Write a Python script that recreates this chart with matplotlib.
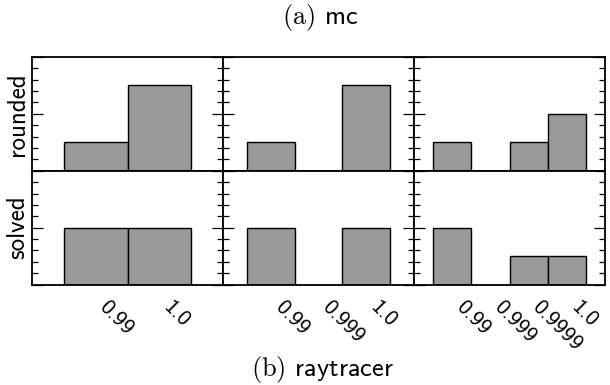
import numpy as np
import matplotlib
matplotlib.use('Agg')
import matplotlib.pyplot as plt
from matplotlib.ticker import MultipleLocator

plt.rcParams['font.family'] = ['cmss10', 'DejaVu Sans']
plt.rcParams['mathtext.fontset'] = 'cm'
plt.rcParams['axes.formatter.use_mathtext'] = True

# categories (thresholds) per panel column
col_labels = [
    ['0.99', '1.0'],
    ['0.99', '0.999', '1.0'],
    ['0.99', '0.999', '0.9999', '1.0'],
]
rounded = [
    [0.25, 0.75],
    [0.25, 0.0, 0.75],
    [0.25, 0.0, 0.25, 0.5],
]
solved = [
    [0.5, 0.5],
    [0.5, 0.0, 0.5],
    [0.5, 0.0, 0.25, 0.25],
]
row_names = ['rounded', 'solved']
rows = [rounded, solved]

fig, axes = plt.subplots(2, 3, figsize=(6.1, 3.85), dpi=100)
fig.subplots_adjust(left=0.0525, right=0.992, top=0.852, bottom=0.261,
                    wspace=0, hspace=0)

for r, row_data in enumerate(rows):
    for c, labels in enumerate(col_labels):
        ax = axes[r, c]
        x = np.arange(len(labels))
        vals = row_data[c]
        ax.bar(x, vals, width=1.0, color='0.6', edgecolor='black', linewidth=1.0)
        ax.set_xlim(-1, len(labels))
        ax.set_ylim(0, 1)
        for sp in ax.spines.values():
            sp.set_linewidth(1.3)
        ax.yaxis.set_major_locator(MultipleLocator(0.5))
        ax.yaxis.set_minor_locator(MultipleLocator(0.1))
        ax.tick_params(axis='y', which='both', direction='in', left=True, right=True,
                       labelleft=False, labelright=False)
        ax.tick_params(axis='y', which='major', length=8, width=0.9)
        ax.tick_params(axis='y', which='minor', length=4, width=0.9)
        ax.set_xticks(x)
        if r == 1:
            ax.set_xticklabels(labels, rotation=-45, ha='left', fontsize=16)
            ax.tick_params(axis='x', length=0, pad=9)
            for t in ax.get_xticklabels():
                t.set_x(t.get_position()[0])
        else:
            ax.tick_params(axis='x', length=0, labelbottom=False)
        if c == 0:
            ax.set_ylabel(row_names[r], fontsize=18, labelpad=2)

fig.text(0.525, 0.955, r'$\mathrm{(a)}$ mc', ha='center', va='center', fontsize=19)
fig.text(0.528, 0.04, r'$\mathrm{(b)}$ raytracer', ha='center', va='center', fontsize=19)

fig.savefig('out.png', dpi=100)
